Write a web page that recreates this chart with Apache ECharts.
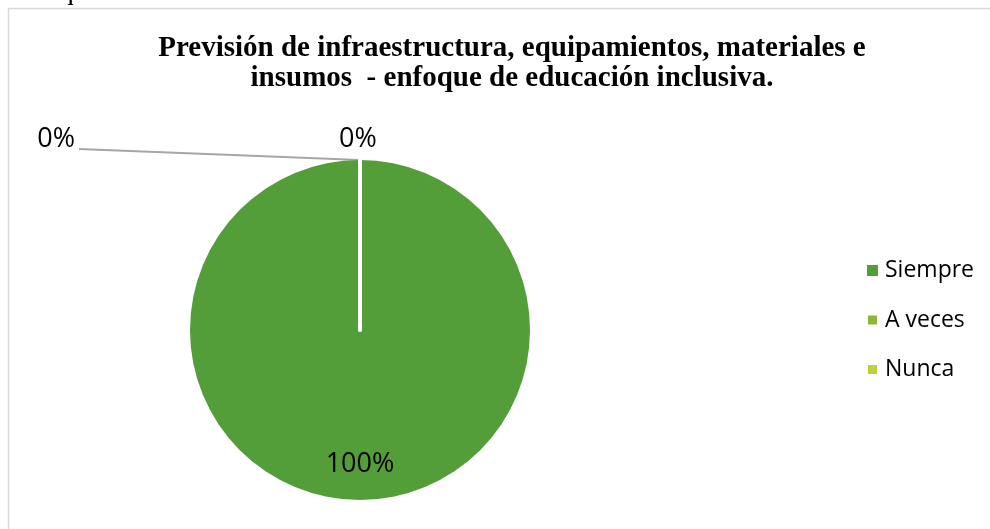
<!DOCTYPE html>
<html>
<head>
<meta charset="utf-8">
<script src="https://cdn.jsdelivr.net/npm/echarts@6/dist/echarts.min.js"></script>
<style>
  html, body { margin: 0; padding: 0; background: #fff; }
  #main { width: 990px; height: 529px; }
</style>
</head>
<body>
<div id="main"></div>
<script>
// datos del gráfico
const categorias = ['Siempre', 'A veces', 'Nunca']
const valores = [100, 0, 0]
const colores = ['#549e39', '#8ab833', '#c0cf3a']

const chart = echarts.init(document.getElementById('main'))

const cx = 360, cy = 330, radio = 170

chart.setOption({
  animation: false,
  color: colores,
  graphic: [
    {
      // texto cortado del documento, arriba
      type: 'text',
      left: 10,
      top: -22,
      style: {
        text: 'enfoque de educación inclusiva.',
        font: '28px "Liberation Serif"',
        fill: '#000'
      }
    },
    {
      type: 'rect',
      shape: { x: 8.5, y: 8.5, width: 1000, height: 600 },
      style: { fill: 'none', stroke: '#d9d9d9', lineWidth: 1.5 },
      z: -1
    }
  ],
  title: {
    text: 'Previsión de infraestructura, equipamientos, materiales e\ninsumos  - enfoque de educación inclusiva.',
    left: 507,
    top: 29,
    textAlign: 'center',
    textStyle: {
      fontFamily: 'Liberation Serif',
      fontWeight: 'bold',
      fontSize: 29,
      lineHeight: 30,
      color: '#000'
    }
  },
  legend: {
    orient: 'vertical',
    left: 861,
    top: 254,
    icon: 'rect',
    itemWidth: 11,
    itemHeight: 11,
    itemGap: 26.5,
    data: categorias,
    textStyle: { fontFamily: 'Open Sans', fontSize: 23, color: '#000', padding: [0, 0, 0, 2] }
  },
  series: [
    {
      type: 'pie',
      center: [cx, cy],
      radius: radio,
      startAngle: 90,
      clockwise: true,
      avoidLabelOverlap: false,
      stillShowZeroSum: true,
      label: {
        show: true,
        formatter: '{d}%',
        fontFamily: 'Open Sans',
        fontSize: 27,
        color: '#000'
      },
      labelLine: { lineStyle: { color: '#a6a6a6', width: 2 } },
      labelLayout: function (p) {
        if (p.dataIndex === 0) return { dy: 46 }
        if (p.dataIndex === 1) {
          return {
            x: 75, y: 139, align: 'right', verticalAlign: 'middle',
            labelLinePoints: [[cx, cy - radio], [cx, cy - radio], [79, 149]]
          }
        }
        return { x: cx - 2, y: 139, align: 'center', verticalAlign: 'middle' }
      },
      data: categorias.map((c, i) => ({
        name: c,
        value: valores[i],
        itemStyle: i === 0 ? {} : { borderColor: '#fff', borderWidth: 4 },
        label: { position: i === 0 ? 'inside' : 'outside' },
        labelLine: { show: i === 1 }
      }))
    }
  ]
})
</script>
</body>
</html>
